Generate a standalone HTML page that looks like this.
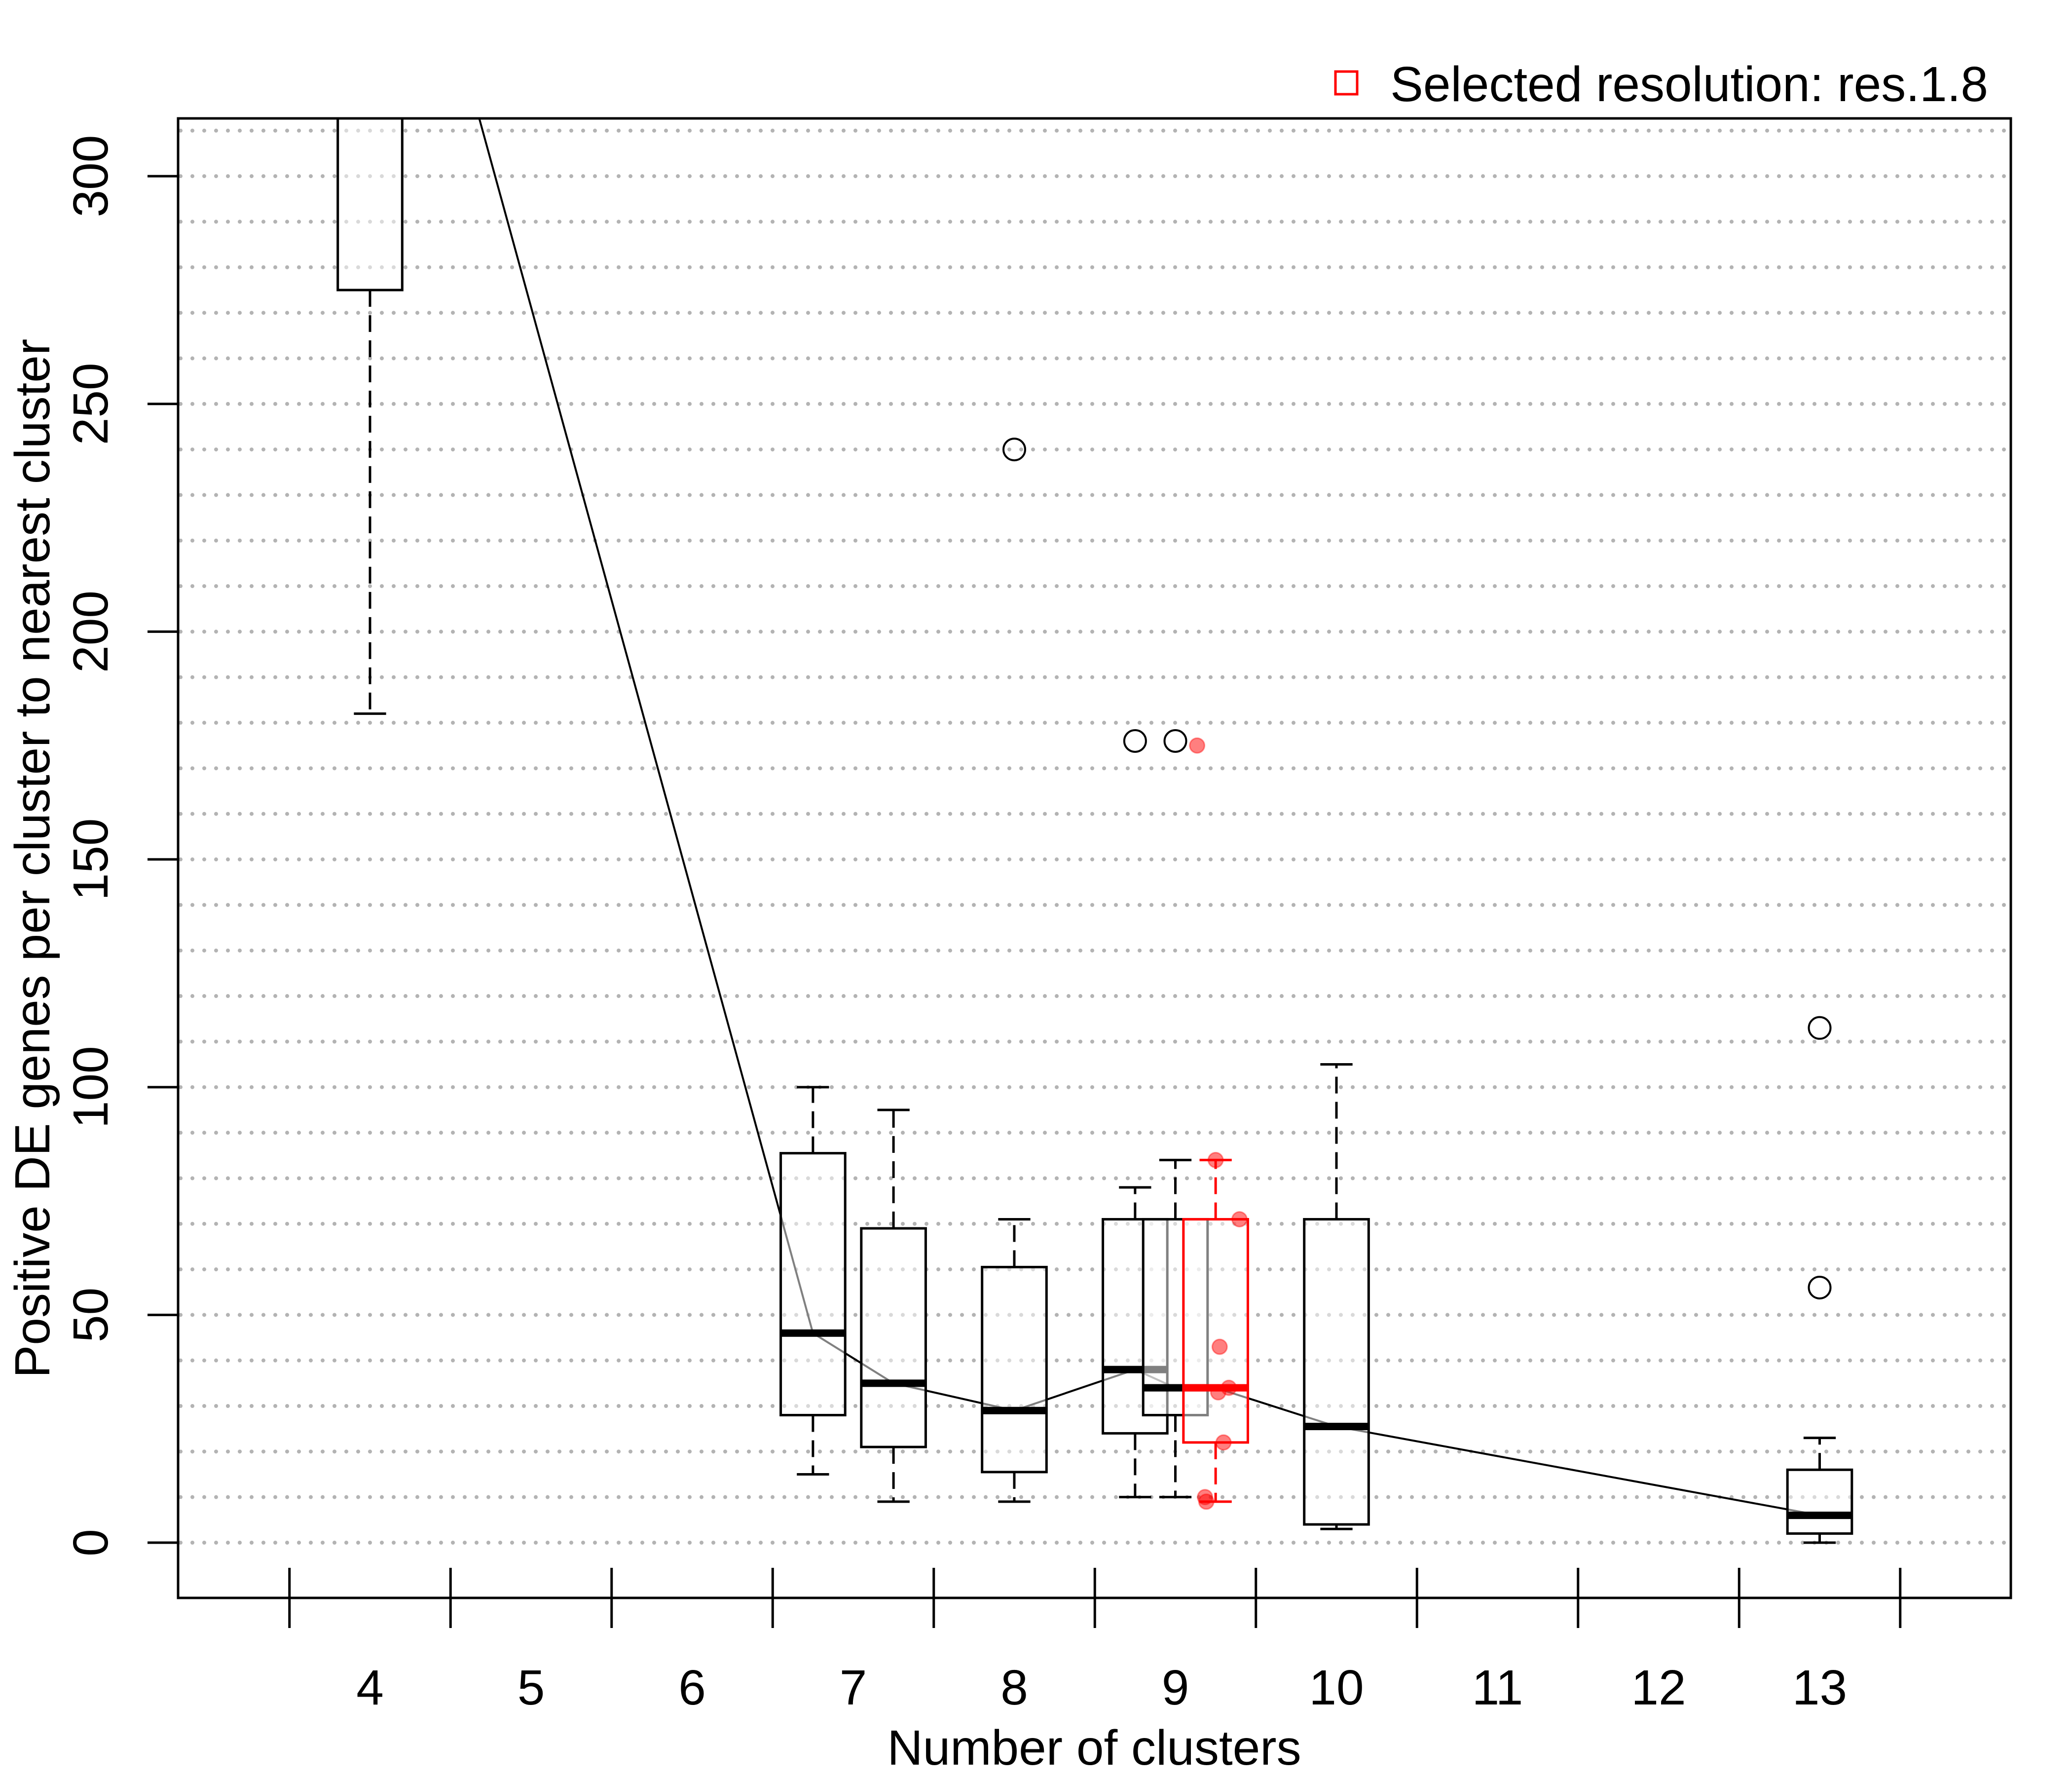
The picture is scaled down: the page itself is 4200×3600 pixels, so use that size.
<!DOCTYPE html>
<html><head><meta charset="utf-8"><style>
html,body{margin:0;padding:0;background:#fff;}
svg{display:block;font-family:"Liberation Sans",Arial,sans-serif;}
</style></head><body>
<svg id="chart" width="4200" height="3600" viewBox="0 0 4200 3600" xmlns="http://www.w3.org/2000/svg">
<defs><clipPath id="plotclip"><rect x="361" y="240" width="3715" height="2999"/></clipPath></defs>
<g id="grid" clip-path="url(#plotclip)"></g>
<g id="marks" clip-path="url(#plotclip)"></g>
<rect x="361" y="240" width="3715" height="2999" fill="none" stroke="#000" stroke-width="5"/>
<g id="axes"></g>
<rect x="2707" y="145" width="44" height="46" fill="none" stroke="#ff0000" stroke-width="5"/>
<text x="4030" y="205" font-size="100" text-anchor="end">Selected resolution: res.1.8</text>
<text x="2218" y="3577" font-size="100" text-anchor="middle">Number of clusters</text>
<text transform="translate(100,1740) rotate(-90)" font-size="100" text-anchor="middle">Positive DE genes per cluster to nearest cluster</text>
</svg>
<script>
const positions=[4,6.75,7.25,8,8.75,9,9.25,10,13];
const medians=[400,46,35,29,38,34,34,25.5,6];
const q1=[275,28,21,15.5,24,28,22,4,2];
const q3=[450,85.5,69,60.5,71,71,71,71,16];
const wlo=[182,15,9,9,10,10,9,3,0];
const whi=[500,100,95,71,78,84,84,105,23];
const selected=[false,false,false,false,false,false,true,false,false];
const outX=[8,8.75,9,13,13];
const outV=[240,176,176,56,113];
const redVals=[175,84,71,43,34,33,22,10,9];
const redJitter=[-0.115,0,0.148,0.025,0.082,0.016,0.049,-0.066,-0.058];
const redCenter=9.25;
const xTickLabels=[4,5,6,7,8,9,10,11,12,13];
const yTickLabels=[0,50,100,150,200,250,300];
const gridVals=[0,10,20,30,40,50,60,70,80,90,100,110,120,130,140,150,160,170,180,190,200,210,220,230,240,250,260,270,280,290,300,310];

const NS='http://www.w3.org/2000/svg';
function X(k){return 2056+(k-8)*326.5;}
function Y(v){return 3127-v*9.233;}
const BW=0.4*326.5;
function mk(parent,tag,attrs){const e=document.createElementNS(NS,tag);for(const k in attrs)e.setAttribute(k,attrs[k]);parent.appendChild(e);return e;}
const grid=document.getElementById('grid'),marks=document.getElementById('marks'),axes=document.getElementById('axes');

gridVals.forEach(v=>{
  const l=mk(grid,'line',{x1:366,x2:4072,y1:Y(v),y2:Y(v),stroke:'#b3b3b3','stroke-width':8,'stroke-linecap':'round','stroke-dasharray':'0 24'});
  
  
});

let d='';
positions.forEach((p,i)=>{d+=(i?'L':'M')+X(p)+' '+Y(medians[i]);});
const tl=mk(marks,'path',{d:d,fill:'none',stroke:'#000','stroke-width':4});



positions.forEach((p,i)=>{
  const col=selected[i]?'#ff0000':'#000';
  const g=mk(marks,'g',{});
  
  
  const cx=X(p);
  const w1=mk(g,'line',{x1:cx,x2:cx,y1:Y(q1[i]),y2:Y(wlo[i]),stroke:col,'stroke-width':5,'stroke-dasharray':'34 17'});
  
  
  const w2=mk(g,'line',{x1:cx,x2:cx,y1:Y(q3[i]),y2:Y(whi[i]),stroke:col,'stroke-width':5,'stroke-dasharray':'34 17'});
  
  
  [wlo[i],whi[i]].forEach(v=>{
    const c=mk(g,'line',{x1:cx-BW/4,x2:cx+BW/4,y1:Y(v),y2:Y(v),stroke:col,'stroke-width':5});
    
    
  });
  const r=mk(g,'rect',{x:cx-BW/2,y:Y(q3[i]),width:BW,height:Y(q1[i])-Y(q3[i]),fill:'rgba(255,255,255,0.5)',stroke:col,'stroke-width':5});
  
  
  const m=mk(g,'line',{x1:cx-BW/2,x2:cx+BW/2,y1:Y(medians[i]),y2:Y(medians[i]),stroke:col,'stroke-width':15});
  
  
});

outX.forEach((p,i)=>{
  const c=mk(marks,'circle',{cx:X(p),cy:Y(outV[i]),r:22,fill:'none',stroke:'#000','stroke-width':4});
  
  
});

redVals.forEach((v,i)=>{
  const c=mk(marks,'circle',{cx:X(redCenter+redJitter[i]),cy:Y(v),r:15,fill:'rgba(255,0,0,0.5)',stroke:'rgba(255,0,0,0.4)','stroke-width':3});
  
  
});

for(let t=3.5;t<=13.5;t+=1){
  const l=mk(axes,'line',{x1:X(t),x2:X(t),y1:3178,y2:3300,stroke:'#000','stroke-width':5});
  
  
}
xTickLabels.forEach(k=>{
  const t=mk(axes,'text',{x:X(k),y:3455,'font-size':100,'text-anchor':'middle'});
  t.textContent=k;
  
  
});
yTickLabels.forEach(v=>{
  const l=mk(axes,'line',{x1:299,x2:361,y1:Y(v),y2:Y(v),stroke:'#000','stroke-width':5});
  
  
  const t=mk(axes,'text',{transform:'translate(218,'+Y(v)+') rotate(-90)','font-size':100,'text-anchor':'middle'});
  t.textContent=v;
  
  
});
</script>
</body></html>
